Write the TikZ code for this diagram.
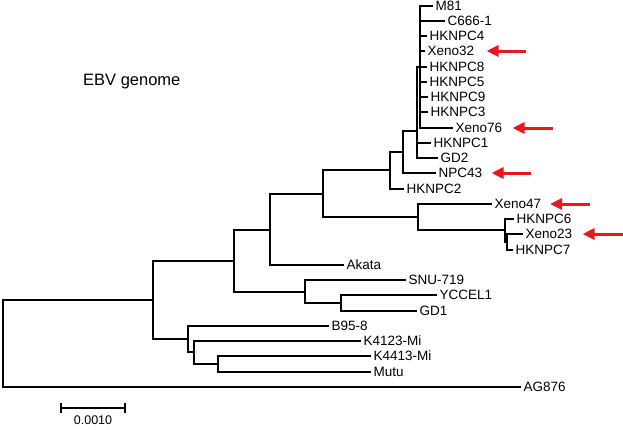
\documentclass[tikz,border=0pt]{standalone}
\usepackage{fontspec}
\setmainfont{Liberation Sans}
\usetikzlibrary{arrows.meta}
\definecolor{arrowred}{RGB}{234,24,30}
\begin{document}
\begin{tikzpicture}[x=1pt,y=-1pt,
  branch/.style={line width=2pt},
  leaf/.style={anchor=west, inner xsep=2.5pt, inner ysep=0pt,
    font=\fontsize{13.5}{13.5}\selectfont, text height=9.7pt, text depth=0pt},
  redarrow/.style={draw=arrowred, line width=3pt, -{Triangle[length=12pt,width=11pt]}}]
\path[use as bounding box] (0,0) rectangle (623,429);

% title
\node[anchor=base west, inner sep=0pt, font=\fontsize{16.5}{16.5}\selectfont] (title) at (83,85) {EBV genome};

% leaves
\node[leaf] (m81)   at (433,6)   {M81};
\node[leaf] (c666)  at (445,21)  {C666-1};
\node[leaf] (hk4)   at (427,36)  {HKNPC4};
\node[leaf] (x32)   at (425,51)  {Xeno32};
\node[leaf] (hk8)   at (427,67)  {HKNPC8};
\node[leaf] (hk5)   at (427,82)  {HKNPC5};
\node[leaf] (hk9)   at (428,97)  {HKNPC9};
\node[leaf] (hk3)   at (428,112) {HKNPC3};
\node[leaf] (x76)   at (453,128) {Xeno76};
\node[leaf] (hk1)   at (431,143) {HKNPC1};
\node[leaf] (gd2)   at (438,158) {GD2};
\node[leaf] (npc43) at (436,173) {NPC43};
\node[leaf] (hk2)   at (404,189) {HKNPC2};
\node[leaf] (x47)   at (492,204) {Xeno47};
\node[leaf] (hk6)   at (514,219) {HKNPC6};
\node[leaf] (x23)   at (523,234) {Xeno23};
\node[leaf] (hk7)   at (513,250) {HKNPC7};
\node[leaf] (akata) at (344,265) {Akata};
\node[leaf] (snu)   at (406,280) {SNU-719};
\node[leaf] (ycc)   at (437,295) {YCCEL1};
\node[leaf] (gd1)   at (417,311) {GD1};
\node[leaf] (b95)   at (329,326) {B95-8};
\node[leaf] (k4123) at (361,341) {K4123-Mi};
\node[leaf] (k4413) at (371,356) {K4413-Mi};
\node[leaf] (mutu)  at (371,372) {Mutu};
\node[leaf] (ag876) at (521,387) {AG876};

% internal nodes
\coordinate (root) at (3,344);
\coordinate (W)  at (153,300);
\coordinate (V)  at (234,261);
\coordinate (U)  at (270,230);
\coordinate (X)  at (323,194);
\coordinate (Y)  at (390,170);
\coordinate (Z)  at (403,152);
\coordinate (AA) at (417,131);
\coordinate (C)  at (419.5,67);
\coordinate (Q2) at (418,217);
\coordinate (H)  at (505,230);
\coordinate (H2) at (507,242);
\coordinate (S)  at (305,292);
\coordinate (T)  at (341,303);
\coordinate (P)  at (188,339);
\coordinate (Qb) at (194,352);
\coordinate (R)  at (218,364);

% branches
\draw[branch] (root) |- (W);
\draw[branch] (root) |- (ag876.west);
\draw[branch] (W) |- (V);
\draw[branch] (W) |- (P);
\draw[branch] (V) |- (U);
\draw[branch] (V) |- (S);
\draw[branch] (U) |- (X);
\draw[branch] (U) |- (akata.west);
\draw[branch] (X) |- (Y);
\draw[branch] (X) |- (Q2);
\draw[branch] (Y) |- (Z);
\draw[branch] (Y) |- (hk2.west);
\draw[branch] (Z) |- (AA);
\draw[branch] (Z) |- (npc43.west);
\draw[branch] (AA) |- (C);
\draw[branch] (AA) |- (hk1.west);
\draw[branch] (AA) |- (gd2.west);
\foreach \n in {m81,c666,hk4,x32,hk8,hk5,hk9,hk3,x76}
  \draw[branch] (C) |- (\n.west);
\draw[branch] (Q2) |- (x47.west);
\draw[branch] (Q2) |- (H);
\draw[branch] (H) |- (hk6.west);
\draw[branch] (H) |- (H2);
\draw[branch] (H2) |- (x23.west);
\draw[branch] (H2) |- (hk7.west);
\draw[branch] (S) |- (snu.west);
\draw[branch] (S) |- (T);
\draw[branch] (T) |- (ycc.west);
\draw[branch] (T) |- (gd1.west);
\draw[branch] (P) |- (b95.west);
\draw[branch] (P) |- (Qb);
\draw[branch] (Qb) |- (k4123.west);
\draw[branch] (Qb) |- (R);
\draw[branch] (R) |- (k4413.west);
\draw[branch] (R) |- (mutu.west);

% red arrows
\coordinate (a1s) at (526,51);  \coordinate (a1e) at (486.5,51);
\coordinate (a2s) at (553,128); \coordinate (a2e) at (512.5,128);
\coordinate (a3s) at (530.5,173);\coordinate (a3e) at (491.5,173);
\coordinate (a4s) at (589.5,204);\coordinate (a4e) at (550,204);
\coordinate (a5s) at (623,234); \coordinate (a5e) at (582.5,234);
\draw[redarrow] (a1s) -- (a1e);
\draw[redarrow] (a2s) -- (a2e);
\draw[redarrow] (a3s) -- (a3e);
\draw[redarrow] (a4s) -- (a4e);
\draw[redarrow] (a5s) -- (a5e);

% scale bar
\coordinate (sbl) at (61,408);
\coordinate (sbr) at (125,408);
\draw[branch] (sbl) -- (sbr);
\draw[branch] (61,403) -- (61,413);
\draw[branch] (125,403) -- (125,413);
\node[inner sep=0pt, font=\fontsize{12.5}{12.5}\selectfont] (sblabel) at (93,420) {0.0010};
\end{tikzpicture}
\end{document}
